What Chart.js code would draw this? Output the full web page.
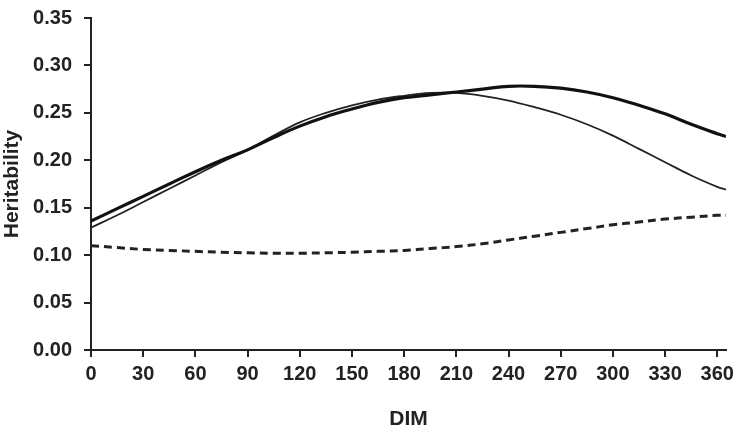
<!DOCTYPE html>
<html>
<head>
<meta charset="utf-8">
<script src="https://cdn.jsdelivr.net/npm/chart.js@4.4.0/dist/chart.umd.min.js"></script>
<style>
  html, body { margin: 0; padding: 0; background: #fff; }
  #wrap { width: 733px; height: 438px; }
</style>
</head>
<body>
<div id="wrap"><canvas id="myChart" width="733" height="438"></canvas></div>
<script>
// days in milk
const dim = [0,15,30,45,60,75,90,105,120,135,150,165,180,195,210,225,240,255,270,285,300,315,330,345,360,365];
// heritability curves
const hThick = [0.136,0.149,0.162,0.175,0.188,0.200,0.211,0.224,0.236,0.246,0.254,0.261,0.266,0.269,0.272,0.275,0.278,0.278,0.276,0.272,0.266,0.258,0.249,0.238,0.228,0.225];
const hThin  = [0.129,0.142,0.156,0.170,0.184,0.198,0.211,0.226,0.240,0.250,0.258,0.264,0.268,0.271,0.271,0.268,0.263,0.256,0.248,0.238,0.226,0.212,0.198,0.184,0.172,0.169];
const hDash  = [0.110,0.108,0.106,0.105,0.104,0.103,0.1025,0.102,0.102,0.1025,0.103,0.104,0.105,0.107,0.109,0.112,0.116,0.120,0.124,0.128,0.132,0.135,0.138,0.140,0.142,0.142];

function pts(ys) { return dim.map((d, i) => ({x: d, y: ys[i]})); }

const tickFont = {family: "'Liberation Sans', Arial, sans-serif", size: 20, weight: 'bold'};
const titleFont = {family: "'Liberation Sans', Arial, sans-serif", size: 21, weight: 'bold'};

const ctx = document.getElementById("myChart").getContext("2d");
const chart = new Chart(ctx, {
  type: "line",
  data: {
    datasets: [
      {data: pts(hThick), borderColor: '#111', borderWidth: 3.2, pointRadius: 0, tension: 0.4, fill: false},
      {data: pts(hThin), borderColor: '#222', borderWidth: 1.8, pointRadius: 0, tension: 0.4, fill: false},
      {data: pts(hDash), borderColor: '#222', borderWidth: 3, borderDash: [8, 5], pointRadius: 0, tension: 0.4, fill: false}
    ]
  },
  options: {
    responsive: false,
    animation: false,
    layout: {padding: {top: 18, right: 7, bottom: 6, left: 0}},
    plugins: {legend: {display: false}, tooltip: {enabled: false}},
    scales: {
      x: {
        type: 'linear', min: 0, max: 365,
        afterBuildTicks: s => { s.ticks = s.ticks.filter(t => t.value % 30 === 0); },
        afterFit: s => { s.height = 82; s.paddingLeft = 0; s.paddingRight = 0; },
        ticks: {stepSize: 30, includeBounds: false, color: '#222', font: tickFont, padding: 5, maxRotation: 0, autoSkip: false},
        grid: {display: true, drawOnChartArea: false, drawTicks: true, tickLength: 7, color: '#222', lineWidth: 2},
        border: {display: true, color: '#222', width: 2},
        title: {display: true, text: 'DIM', color: '#222', font: titleFont, padding: {top: 14, bottom: 0}}
      },
      y: {
        min: 0, max: 0.35,
        afterFit: s => { s.width = 91; s.paddingTop = 0; s.paddingBottom = 0; },
        ticks: {stepSize: 0.05, color: '#222', font: tickFont, padding: 12, callback: v => v.toFixed(2)},
        grid: {display: true, drawOnChartArea: false, drawTicks: true, tickLength: 7, color: '#222', lineWidth: 2},
        border: {display: true, color: '#222', width: 2},
        title: {display: true, text: 'Heritability', color: '#222', font: titleFont, padding: {top: 0, bottom: 0}}
      }
    }
  }
});
</script>
</body>
</html>
